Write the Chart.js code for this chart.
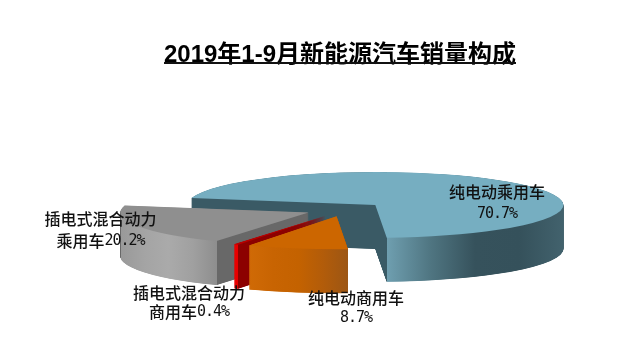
<!DOCTYPE html>
<html>
<head>
<meta charset="utf-8">
<style>
html, body { margin: 0; padding: 0; background: #fff; }
canvas { display: block; }
</style>
<script src="https://cdn.jsdelivr.net/npm/chart.js@4/dist/chart.umd.min.js"></script>
</head>
<body>
<canvas id="chart" width="618" height="352"></canvas>
<script>
var titleText = "2019年1-9月新能源汽车销量构成";
var categories = ["纯电动乘用车", "纯电动商用车", "插电式混合动力商用车", "插电式混合动力乘用车"];
var values = [70.7, 8.7, 0.4, 20.2];
var labelFirst = ["纯电动乘用车", "纯电动商用车", "插电式混合动力", "插电式混合动力"];
var labelSecond = ["", "", "商用车", "乘用车"];

var topColors = ["#76aec1", "#cc6600", "#b80000", "#8f8f8f"];
var cutColors = ["#3a5a65", "#a85a10", "#8c0000", "#686868"];
var rimColors = [
  ["#6f9fb0", "#4f7581", "#36525c", "#35515b", "#42626d"],
  ["#d06a06", "#c86402", "#c46200", "#b25c0a", "#9c5614"],
  ["#e80000", "#e80000"],
  ["#999999", "#a4a4a4", "#aaaaaa", "#a0a0a0", "#8e8e8e"]
];
// painted back to front
var drawOrder = [0, 3, 2, 1];
var labelSpots = [[497, 192, 214], [356, 298, 318], [189, 293, 312], [100.5, 219, 241]];

var pieX = 5;
var pieY = 209.5;
var squash = 0.175;
var depth = 44;
var explode = 40;

function wallGradient(ctx, arc, i) {
  // colours are laid out over the part of the rim that faces the viewer
  var R = arc.outerRadius;
  var a0 = arc.startAngle, a1 = arc.endAngle;
  var lo = 2, hi = -2;
  for (var k = 0; k <= 400; k++) {
    var a = a0 + (a1 - a0) * k / 400;
    if (Math.sin(a) >= 0) {
      lo = Math.min(lo, Math.cos(a));
      hi = Math.max(hi, Math.cos(a));
    }
  }
  var g = ctx.createLinearGradient(arc.x - R, 0, arc.x + R, 0);
  var f0 = (lo + 1) / 2, f1 = (hi + 1) / 2;
  if (f0 > 0) { g.addColorStop(0, cutColors[i]); g.addColorStop(f0, cutColors[i]); }
  rimColors[i].forEach(function (c, n) {
    g.addColorStop(f0 + (f1 - f0) * n / (rimColors[i].length - 1), c);
  });
  if (f1 < 1) { g.addColorStop(f1, cutColors[i]); g.addColorStop(1, cutColors[i]); }
  return g;
}

function drawMixed(ctx, text, cx, cy) {
  // CJK runs at full width, digits in half width like the original font
  var runs = text.match(/[\u4e00-\u9fff]+|[^\u4e00-\u9fff]+/g) || [];
  var total = 0;
  var widths = runs.map(function (r) {
    var w = /[\u4e00-\u9fff]/.test(r) ? r.length * 16 : r.length * 8;
    total += w;
    return w;
  });
  var x = cx - total / 2;
  runs.forEach(function (r, n) {
    var cjk = /[\u4e00-\u9fff]/.test(r);
    ctx.font = cjk ? "500 16px 'Noto Sans CJK SC'" : "15px 'DejaVu Sans Mono'";
    ctx.letterSpacing = cjk ? "0px" : "-1px";
    ctx.fillText(r, x, cy);
    x += widths[n];
  });
  ctx.letterSpacing = "0px";
}

var pie3d = {
  id: "pie3d",
  beforeDatasetDraw: function (chart, args) {
    var ctx = chart.ctx;
    var arcs = args.meta.data;
    drawOrder.forEach(function (i) {
      var arc = arcs[i];
      var opts = arc.options;
      var wall = Object.assign({}, opts, { backgroundColor: wallGradient(ctx, arc, i), borderWidth: 0 });
      var mid = (arc.startAngle + arc.endAngle) / 2;
      // fine steps keep thin slices from showing a stair pattern
      for (var d = depth; d >= 0; d -= 0.25) {
        ctx.save();
        ctx.translate(pieX, pieY + d);
        ctx.scale(1, squash);
        ctx.translate(Math.cos(mid) * explode, Math.sin(mid) * explode - arc.y);
        arc.options = d === 0 ? opts : wall;
        arc.draw(ctx);
        arc.options = opts;
        ctx.restore();
      }
    });
    return false;
  },
  afterDraw: function (chart) {
    var ctx = chart.ctx;
    var box = chart.titleBlock;
    ctx.save();
    ctx.strokeStyle = "#111";
    ctx.lineWidth = 2;
    ctx.beginPath();
    ctx.moveTo(box.left + box.width / 2 - 176, 63);
    ctx.lineTo(box.left + box.width / 2 + 176, 63);
    ctx.stroke();
    ctx.fillStyle = "#111";
    ctx.textBaseline = "middle";
    ctx.textAlign = "left";
    values.forEach(function (v, i) {
      var spot = labelSpots[i];
      var second = labelSecond[i] + v.toFixed(1) + "%";
      drawMixed(ctx, labelFirst[i], spot[0], spot[1]);
      drawMixed(ctx, second, spot[0], spot[2]);
    });
    ctx.restore();
  }
};

new Chart(document.getElementById("chart").getContext("2d"), {
  type: "pie",
  data: {
    labels: categories,
    datasets: [{
      data: values,
      backgroundColor: topColors,
      borderWidth: 0
    }]
  },
  options: {
    responsive: false,
    animation: false,
    rotation: 282,
    radius: 188,
    layout: { padding: { left: 62 } },
    plugins: {
      legend: { display: false },
      tooltip: { enabled: false },
      title: {
        display: true,
        fullSize: false,
        text: titleText,
        color: "#000",
        font: { family: "'Liberation Sans','Noto Sans CJK SC'", size: 24, weight: "bold" },
        padding: { top: 41, bottom: 0 }
      }
    }
  },
  plugins: [pie3d]
});
</script>
</body>
</html>
